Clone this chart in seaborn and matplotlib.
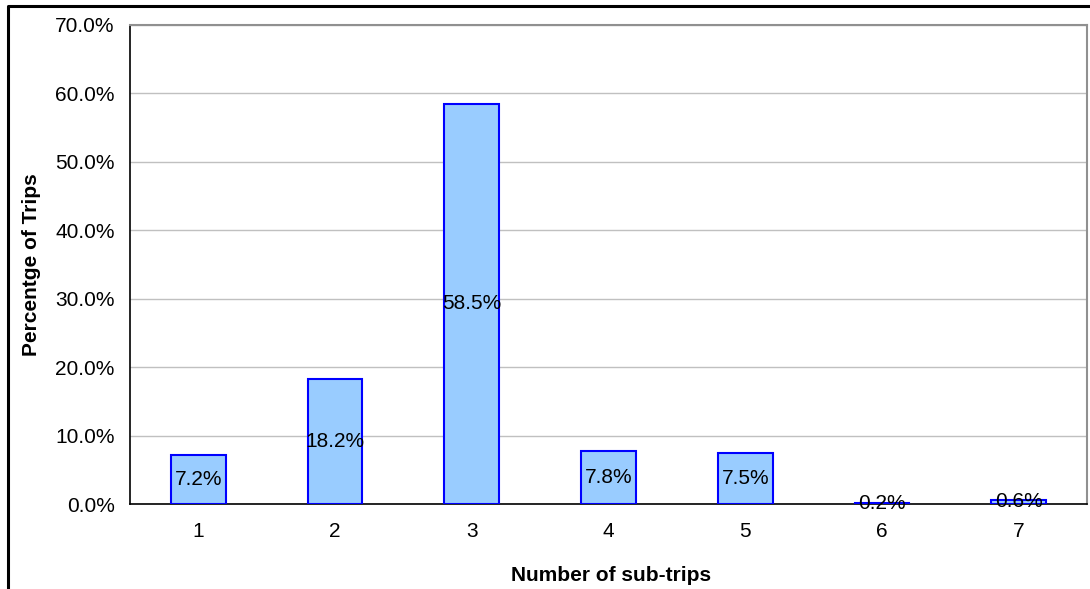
import matplotlib
matplotlib.use("Agg")
import matplotlib.pyplot as plt
from matplotlib.lines import Line2D
from matplotlib.ticker import MultipleLocator, FuncFormatter
import seaborn as sns

# Share of trips by number of sub-trips
sub_trips = ["1", "2", "3", "4", "5", "6", "7"]
pct_trips = [7.2, 18.2, 58.5, 7.8, 7.5, 0.2, 0.6]
value_labels = ["7.2%", "18.2%", "58.5%", "7.8%", "7.5%", "0.2%", "0.6%"]

sns.set_theme(style="white")
plt.rcParams["font.family"] = ["Liberation Sans", "DejaVu Sans"]
plt.rcParams["text.color"] = "black"
plt.rcParams["axes.labelcolor"] = "black"
plt.rcParams["xtick.color"] = "black"
plt.rcParams["ytick.color"] = "black"

W, H = 1090, 589
FS = 15
fig = plt.figure(figsize=(W / 100, H / 100), dpi=100)
ax = fig.add_axes([130 / W, 1 - 504 / H, (1087 - 130) / W, (504 - 25) / H])

sns.barplot(x=sub_trips, y=pct_trips, ax=ax, width=0.4, color="#99CCFF",
            saturation=1, edgecolor="#0000FF", linewidth=1.5, zorder=3)

ax.bar_label(ax.containers[0], labels=value_labels, label_type="center",
             fontsize=FS, color="black", zorder=5)

ax.set_ylim(0, 70)
ax.set_xlim(-0.5, len(sub_trips) - 0.5)
ax.yaxis.set_major_locator(MultipleLocator(10))
ax.yaxis.set_major_formatter(FuncFormatter(lambda v, _: f"{v:.1f}%"))
ax.grid(axis="y", color="#C0C0C0", linewidth=1, zorder=0)
ax.set_axisbelow(True)

# category separators as inward minor ticks
ax.set_xticks([i - 0.5 for i in range(len(sub_trips) + 1)], minor=True)
ax.tick_params(axis="x", which="major", length=0, pad=13, labelsize=FS,
               labelcolor="black")
ax.tick_params(axis="x", which="minor", direction="in", length=6, width=1,
               color="black")
ax.tick_params(axis="y", which="major", direction="in", length=4, width=1,
               color="black", pad=11, labelsize=FS, labelcolor="black")

for side in ("left", "bottom"):
    ax.spines[side].set_color("black")
    ax.spines[side].set_linewidth(1.2)
for side in ("top", "right"):
    ax.spines[side].set_color("#909090")
    ax.spines[side].set_linewidth(1.5)

ax.set_xlabel("Number of sub-trips", fontsize=FS, fontweight="bold",
              color="black")
ax.set_ylabel("Percentge of Trips", fontsize=FS, fontweight="bold",
              color="black")
ax.xaxis.set_label_coords(0.503, -(566 - 504) / (504 - 25))
ax.yaxis.set_label_coords(-(130 - 41) / (1087 - 130), 0.5)

# outer chart frame
fig.add_artist(Line2D([8 / W, 8 / W, 1.0], [0.0, 1 - 6 / H, 1 - 6 / H],
                      transform=fig.transFigure, color="black", linewidth=2.2))

fig.savefig("out.png", dpi=100, facecolor="white")
